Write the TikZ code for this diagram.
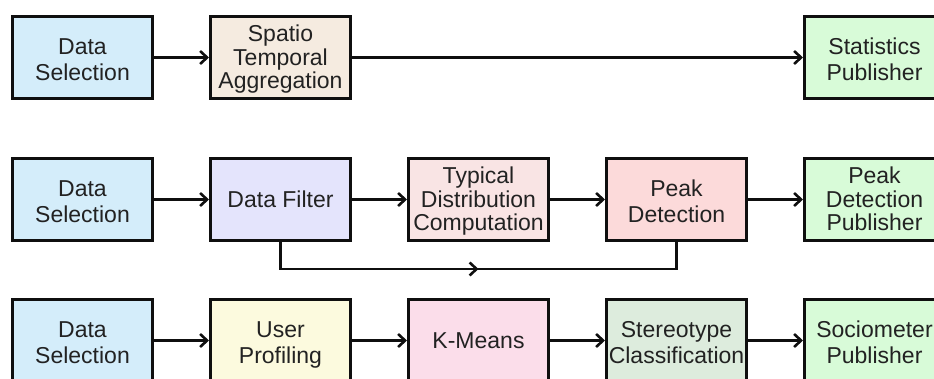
\documentclass[tikz,border=0pt]{standalone}
\usepackage{fontspec}
\setmainfont{Liberation Sans}
\usetikzlibrary{arrows.meta,decorations.markings}
\definecolor{cds}{RGB}{212,237,250}
\definecolor{cspatio}{RGB}{245,235,224}
\definecolor{cfilter}{RGB}{228,228,252}
\definecolor{ctypical}{RGB}{249,228,228}
\definecolor{cpeak}{RGB}{252,218,218}
\definecolor{cpub}{RGB}{216,251,216}
\definecolor{cuser}{RGB}{252,250,222}
\definecolor{ckmeans}{RGB}{251,221,234}
\definecolor{cstereo}{RGB}{221,236,221}
\definecolor{ctext}{RGB}{34,34,34}
\definecolor{cline}{RGB}{15,15,15}
\newcommand\stagetxt[2]{\raisebox{#1}[\height][\depth]{\begin{tabular}{@{}c@{}}#2\end{tabular}}}
\tikzset{
  stagebox/.style={draw=cline, line width=3pt, minimum width=140pt, minimum height=82pt,
    inner sep=0pt, text=ctext,
    font=\fontsize{23}{25.5}\selectfont},
  threeline/.style={font=\fontsize{23}{23}\selectfont},
  conn/.style={draw=cline, line width=2.6pt, -{Straight Barb[length=7pt,width=13pt]}},
  plainconn/.style={draw=cline, line width=2.6pt},
  midarrow/.style={postaction={decorate}, decoration={markings,
    mark=at position 0.5 with {\arrow{Straight Barb[length=7pt,width=13pt]}}}}
}
\begin{document}
\begin{tikzpicture}[x=1pt,y=-1pt]
\useasboundingbox (0,0) rectangle (934,378);
\fill[white] (0,0) rectangle (934,378);
% row 1
\node[stagebox, fill=cds] (ds1) at (82.5,57.5) {\stagetxt{-5pt}{Data\\Selection}};
\node[stagebox, threeline, fill=cspatio] (sta) at (280.5,57.5) {\stagetxt{-3pt}{Spatio\\Temporal\\Aggregation}};
\node[stagebox, fill=cpub] (sp) at (874.5,57.5) {\stagetxt{-5pt}{Statistics\\Publisher}};
% row 2
\node[stagebox, fill=cds] (ds2) at (82.5,199.5) {\stagetxt{-5pt}{Data\\Selection}};
\node[stagebox, fill=cfilter] (df) at (280.5,199.5) {\stagetxt{-3pt}{Data Filter}};
\node[stagebox, threeline, fill=ctypical] (tdc) at (478.5,199.5) {\stagetxt{-3pt}{Typical\\Distribution\\Computation}};
\node[stagebox, fill=cpeak] (pd) at (676.5,199.5) {\stagetxt{-5pt}{Peak\\Detection}};
\node[stagebox, threeline, fill=cpub] (pdp) at (874.5,199.5) {\stagetxt{-3pt}{Peak\\Detection\\Publisher}};
% row 3
\node[stagebox, fill=cds] (ds3) at (82.5,340.5) {\stagetxt{-5pt}{Data\\Selection}};
\node[stagebox, fill=cuser] (up) at (280.5,340.5) {\stagetxt{-5pt}{User\\Profiling}};
\node[stagebox, fill=ckmeans] (km) at (478.5,340.5) {\stagetxt{-3pt}{K-Means}};
\node[stagebox, fill=cstereo] (sc) at (676.5,340.5) {\stagetxt{-5pt}{Stereotype\\Classification}};
\node[stagebox, fill=cpub] (smp) at (874.5,340.5) {\stagetxt{-5pt}{Sociometer\\Publisher}};
% connectors
\draw[conn] (ds1) -- (sta);
\draw[conn] (sta) -- (sp);
\draw[conn] (ds2) -- (df);
\draw[conn] (df) -- (tdc);
\draw[conn] (tdc) -- (pd);
\draw[conn] (pd) -- (pdp);
\draw[conn] (ds3) -- (up);
\draw[conn] (up) -- (km);
\draw[conn] (km) -- (sc);
\draw[conn] (sc) -- (smp);
\coordinate (fb) at (0,269);
\draw[plainconn, midarrow, line join=miter] (df.south) -- (df.south |- fb) -- (pd.south |- fb) -- (pd.south);
\end{tikzpicture}
\end{document}
